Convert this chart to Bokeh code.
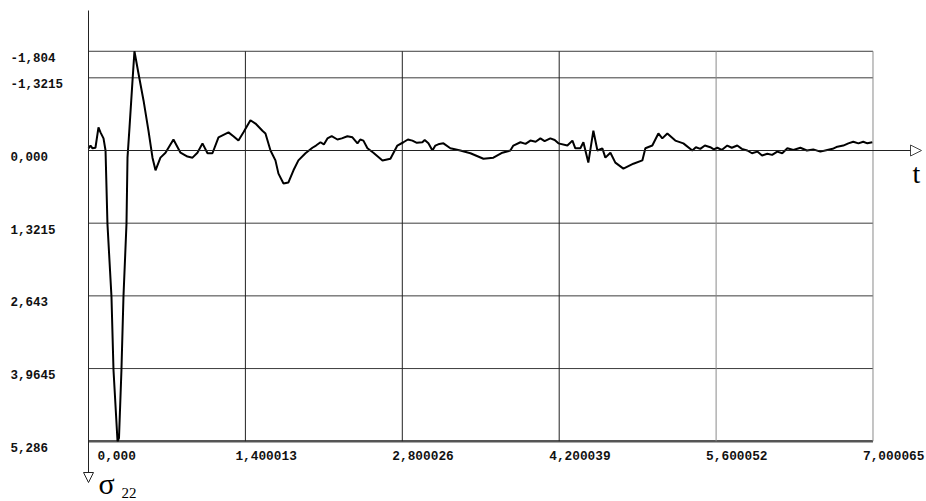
from bokeh.plotting import figure
from bokeh.models import Range1d, Arrow, NormalHead
from bokeh.embed import file_html
from bokeh.resources import INLINE
from bokeh.core.properties import value

# ---- data ----
t = [0.000, 0.018, 0.036, 0.062, 0.089, 0.107, 0.134, 0.152, 0.169, 0.205,
     0.223, 0.259, 0.272, 0.294, 0.312, 0.339, 0.348, 0.366, 0.393, 0.410,
     0.446, 0.491, 0.535, 0.571, 0.598, 0.642, 0.687, 0.758, 0.821, 0.883,
     0.928, 0.972, 1.017, 1.062, 1.106, 1.160, 1.249, 1.293, 1.338, 1.383,
     1.445, 1.490, 1.552, 1.579, 1.624, 1.668, 1.695, 1.740, 1.784, 1.829,
     1.873, 1.936, 1.998, 2.030, 2.070, 2.100, 2.132, 2.170, 2.221, 2.260,
     2.310, 2.355, 2.400, 2.425, 2.453, 2.489, 2.542, 2.623, 2.694, 2.756,
     2.810, 2.850, 2.890, 2.930, 2.979, 3.000, 3.033, 3.069, 3.095, 3.130,
     3.167, 3.229, 3.318, 3.408, 3.524, 3.613, 3.693, 3.764, 3.791, 3.854,
     3.900, 3.943, 3.990, 4.032, 4.070, 4.121, 4.160, 4.193, 4.273, 4.318,
     4.344, 4.389, 4.416, 4.460, 4.505, 4.541, 4.585, 4.612, 4.657, 4.701,
     4.773, 4.862, 4.942, 4.969, 5.031, 5.085, 5.120, 5.165, 5.236, 5.308,
     5.388, 5.420, 5.459, 5.500, 5.548, 5.580, 5.611, 5.650, 5.700, 5.740,
     5.789, 5.830, 5.879, 5.920, 5.968, 6.010, 6.057, 6.100, 6.146, 6.190,
     6.236, 6.290, 6.352, 6.410, 6.467, 6.530, 6.592, 6.640, 6.682, 6.735,
     6.780, 6.824, 6.870, 6.913, 6.950, 6.994]
sigma = [-0.04, -0.09, -0.04, -0.05, -0.42, -0.33, -0.22, 0.00, 1.33, 2.66,
         3.99, 5.286, 5.23, 3.99, 2.66, 1.33, 0.13, -0.42, -1.28, -1.804,
         -1.40, -0.91, -0.36, 0.13, 0.36, 0.13, 0.04, -0.20, 0.04, 0.11,
         0.13, 0.04, -0.13, 0.05, 0.05, -0.24, -0.33, -0.26, -0.18, -0.33,
         -0.55, -0.49, -0.36, -0.31, 0.00, 0.18, 0.42, 0.60, 0.58, 0.36,
         0.18, 0.05, -0.05, -0.09, -0.15, -0.11, -0.22, -0.26, -0.20, -0.22,
         -0.26, -0.24, -0.13, -0.20, -0.18, -0.04, 0.04, 0.18, 0.15, -0.09,
         -0.15, -0.20, -0.18, -0.14, -0.15, -0.19, -0.13, 0.00, -0.09, -0.12,
         -0.13, -0.04, 0.00, 0.05, 0.15, 0.13, 0.04, 0.00, -0.09, -0.15,
         -0.12, -0.18, -0.16, -0.22, -0.17, -0.22, -0.19, -0.13, -0.09, -0.18,
         -0.04, -0.04, -0.15, 0.22, -0.36, 0.00, -0.04, 0.13, 0.04, 0.22,
         0.33, 0.24, 0.18, -0.04, -0.09, -0.31, -0.22, -0.31, -0.18, -0.13,
         0.00, -0.06, -0.03, -0.09, -0.06, -0.02, -0.05, -0.01, -0.09, -0.05,
         -0.09, -0.03, 0.00, 0.05, 0.02, 0.09, 0.06, 0.08, 0.02, 0.05,
         -0.04, -0.01, -0.05, 0.00, -0.02, 0.02, -0.01, -0.03, -0.07, -0.09,
         -0.13, -0.16, -0.13, -0.16, -0.13, -0.15]

y_ticks = [-1.804, -1.3215, 0.0, 1.3215, 2.643, 3.9645, 5.286]
y_tick_labels = ["-1,804", "-1,3215", "0,000", "1,3215", "2,643", "3,9645", "5,286"]
x_ticks = [0.0, 1.400013, 2.800026, 4.200039, 5.600052, 7.000065]
x_tick_labels = ["0,000", "1,400013", "2,800026", "4,200039", "5,600052", "7,000065"]

# ---- layout (canvas pixels) ----
W, H = 926, 501
X0_PX, Y0_PX = 88, 150          # canvas position of t=0 / sigma=0
PX_T, PX_S = 112.07, 55.0       # pixels per unit


def dx(px):
    return (px - X0_PX) / PX_T


def dy(py):
    return (py - Y0_PX) / PX_S


p = figure(width=W, height=H, output_backend="svg", toolbar_location=None,
           x_axis_type=None, y_axis_type=None, min_border=0,
           x_range=Range1d(dx(0), dx(W)), y_range=Range1d(dy(H), dy(0)))
p.outline_line_color = None
p.background_fill_color = "white"
p.border_fill_color = "white"

# horizontal grid
x_end = x_ticks[-1]
p.segment(x0=[0] * (len(y_ticks) - 1), x1=[x_end] * (len(y_ticks) - 1),
          y0=y_ticks[:-1], y1=y_ticks[:-1], line_color="#3c3c3c", line_width=1)
p.segment(x0=[0], x1=[x_end], y0=[y_ticks[-1]], y1=[y_ticks[-1]],
          line_color="#555555", line_width=2.5)
# vertical grid
vcols = ["#222222", "#222222", "#222222", "#8a8a8a", "#8a8a8a"]
p.segment(x0=x_ticks[1:], x1=x_ticks[1:], y0=[y_ticks[0]] * 5, y1=[y_ticks[-1]] * 5,
          line_color=vcols, line_width=1)

# axes with open-triangle arrows
p.add_layout(Arrow(x_start=0, y_start=dy(10), x_end=0, y_end=dy(482),
                   line_color="#222222", line_width=1,
                   end=NormalHead(size=10, fill_color="white", line_color="#222222", line_width=1)))
p.add_layout(Arrow(x_start=0, y_start=0, x_end=dx(921), y_end=0,
                   line_color="#222222", line_width=1,
                   end=NormalHead(size=11, fill_color="white", line_color="#444444", line_width=1)))

# curve
p.line(t, sigma, line_color="black", line_width=2)

# tick labels
mono = value("Liberation Mono")
p.text(x=[dx(10)] * len(y_ticks), y=y_ticks, text=y_tick_labels, y_offset=6,
       text_font=mono, text_font_style="bold", text_font_size="12.5px",
       text_align="left", text_baseline="middle", text_color="#111111")
p.text(x=x_ticks, y=[y_ticks[-1]] * len(x_ticks), text=x_tick_labels,
       x_offset=[9] + [-10] * (len(x_ticks) - 1), y_offset=14,
       text_font=mono, text_font_style="bold", text_font_size="12.8px",
       text_align="left", text_baseline="middle", text_color="#111111")

# axis names
serif = value("Liberation Serif")
p.text(x=[dx(912)], y=[dy(173)], text=["t"], text_font=serif, text_font_size="28px",
       text_align="left", text_baseline="middle", text_color="black")
p.text(x=[dx(98)], y=[dy(483)], text=["σ"], text_font=serif, text_font_size="30px",
       text_align="left", text_baseline="middle", text_color="black")
p.text(x=[dx(121)], y=[dy(492)], text=["22"], text_font=serif, text_font_size="15px",
       text_align="left", text_baseline="middle", text_color="black")

open("out.html", "w").write(file_html(p, INLINE))
